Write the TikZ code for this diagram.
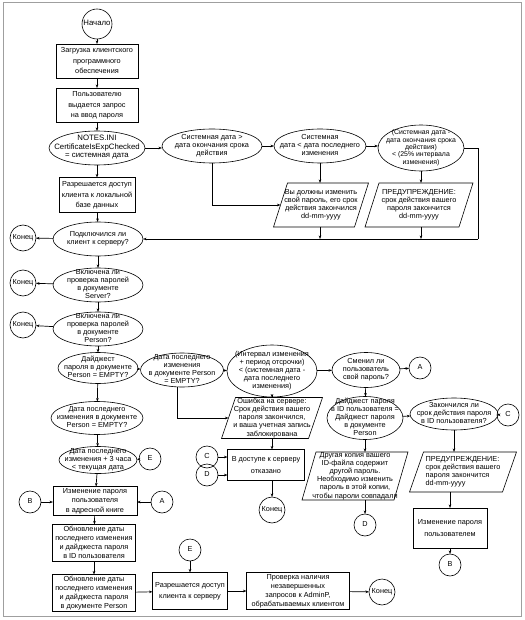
\documentclass[tikz,border=0pt]{standalone}
\usepackage{fontspec}
\setmainfont{Liberation Sans}
\usetikzlibrary{shapes.geometric,arrows.meta}
\newcommand\zt[1]{\makebox[0pt]{\raisebox{-1.75pt}[0pt][0pt]{\begin{tabular}{@{}c@{}}#1\end{tabular}}}}
\newcommand\zl[1]{\makebox[0pt]{\raisebox{-1.75pt}[0pt][0pt]{\begin{tabular}{@{}l@{}}#1\end{tabular}}}}
\newcommand\drawpara[2]{\draw[line width=0.6pt] ([xshift=#2]#1.north west) -- ([xshift=#2]#1.north east) -- ([xshift=-#2]#1.south east) -- ([xshift=-#2]#1.south west) -- cycle;}
\begin{document}
\begin{tikzpicture}[x=1pt,y=-1pt,
  every node/.style={inner sep=0pt,outer sep=0pt},
  el/.style={ellipse,draw,line width=0.6pt,font=\fontsize{7.3}{8}\selectfont},
  bx/.style={rectangle,draw,line width=0.6pt,font=\fontsize{7.3}{10.5}\selectfont},
  bxf/.style={rectangle,draw,line width=0.6pt,font=\fontsize{7.3}{9}\selectfont},
  pg/.style={rectangle,font=\fontsize{7.3}{8.2}\selectfont},
  term/.style={circle,draw,line width=0.6pt,minimum size=26pt,font=\fontsize{7.3}{8}\selectfont},
  con/.style={circle,draw,line width=0.6pt,minimum size=22pt,font=\fontsize{7.3}{8}\selectfont},
  ar/.style={line width=0.7pt,-{Stealth[length=3.5pt,width=2.6pt]}},
  ln/.style={line width=0.7pt}]
\useasboundingbox (0,0) rectangle (524,620);
\draw[gray!75,line width=1pt] (3,3) rectangle (521,616);
% top row
\node[term,minimum size=30pt,font=\fontsize{7.8}{8}\selectfont] (start) at (97,24) {\zt{Начало}};
\node[bx,minimum width=82pt,minimum height=34pt] (b1) at (97,61) {\zt{Загрузка клиентского\\программного\\обеспечения}};
\node[bx,minimum width=82pt,minimum height=34pt] (b2) at (97,105) {\zt{Пользователю\\выдается запрос\\на ввод пароля}};
\node[el,minimum width=96pt,minimum height=34pt,font=\fontsize{7.8}{8.5}\selectfont] (e1) at (97,148) {\zt{NOTES.INI\\CertificateIsExpChecked\\= системная дата}};
\node[el,minimum width=100pt,minimum height=34pt] (e2) at (212,146) {\zt{Системная дата >\\дата окончания срока\\действия}};
\node[el,minimum width=92pt,minimum height=34pt] (e3) at (320,146) {\zt{Системная\\дата < дата последнего\\изменения}};
\node[el,minimum width=86pt,minimum height=46pt,font=\fontsize{6.9}{7.4}\selectfont] (e4) at (421,148) {\zt{(Системная дата -\\дата окончания срока\\действия)\\< (25\% интервала\\изменения)}};
\node[pg,minimum width=81pt,minimum height=44pt] (p1) at (321,205) {\zt{Вы должны изменить\\свой пароль, его срок\\действия закончился\\dd-mm-yyyy}};
\drawpara{p1}{7pt}
\node[pg,minimum width=94pt,minimum height=44pt] (p2) at (419,205) {\zt{ПРЕДУПРЕЖДЕНИЕ:\\срок действия вашего\\пароля закончится\\dd-mm-yyyy}};
\drawpara{p2}{7pt}
\coordinate (loop) at (478,239);
% left column
\node[bx,minimum width=76pt,minimum height=35pt] (b3) at (97,195) {\zt{Разрешается доступ\\клиента к локальной\\базе данных}};
\node[el,minimum width=90pt,minimum height=34pt] (c1) at (98,239) {\zt{Подключился ли\\клиент к серверу?}};
\node[term] (k1) at (23,238) {\zt{Конец}};
\node[el,minimum width=90pt,minimum height=34pt] (c2) at (98,285) {\zt{Включена ли\\проверка паролей\\в документе\\Server?}};
\node[term] (k2) at (23,283) {\zt{Конец}};
\node[el,minimum width=90pt,minimum height=34pt] (c3) at (98,329) {\zt{Включена ли\\проверка паролей\\в документе\\Person?}};
\node[term] (k3) at (23,325) {\zt{Конец}};
\node[el,minimum width=80pt,minimum height=31pt] (d1) at (98,368) {\zt{Дайджест\\пароля в документе\\Person = EMPTY?}};
\node[el,minimum width=92pt,minimum height=33pt] (d2) at (97,418) {\zt{Дата последнего\\изменения в документе\\Person = EMPTY?}};
\node[el,minimum width=78pt,minimum height=27pt] (d3) at (98,460) {\zt{Дата последнего\\изменения + 3 часа\\< текущая дата}};
\node[con] (E1) at (150,459) {\zt{E}};
\node[bx,minimum width=84pt,minimum height=29pt,font=\fontsize{7.3}{9.5}\selectfont] (ba) at (95,501) {\zt{Изменение пароля\\пользователя\\в адресной книге}};
\node[con] (B1) at (30,502) {\zt{B}};
\node[con] (A1) at (162,502) {\zt{A}};
\node[bxf,minimum width=83pt,minimum height=37pt] (u1) at (94,543) {\zt{Обновление даты\\последнего изменения\\и дайджеста пароля\\в ID пользователя}};
\node[bxf,minimum width=83pt,minimum height=37pt] (u2) at (94,593) {\zt{Обновление даты\\последнего изменения\\и дайджеста пароля\\в документе Person}};
\node[bx,minimum width=75pt,minimum height=37pt] (bs) at (190,591) {\zt{Разрешается доступ\\клиента к серверу}};
\node[con] (E2) at (190,550) {\zt{E}};
\node[bxf,minimum width=103pt,minimum height=37pt] (bp) at (298,591) {\zt{Проверка наличия\\незавершенных\\запросов к AdminP,\\обрабатываемых клиентом}};
\node[term] (k5) at (382,592) {\zt{Конец}};
% middle
\node[el,minimum width=83pt,minimum height=34pt] (m1) at (182,370) {\zt{Дата последнего\\изменения\\в документе Person\\= EMPTY?}};
\node[el,minimum width=90pt,minimum height=52pt] (m2) at (272,371) {\zt{(Интервал изменения\\+ период отсрочки)\\< (системная дата -\\дата последнего\\изменения)}};
\node[el,minimum width=68pt,minimum height=35pt] (m3) at (366,370) {\zt{Сменил ли\\пользователь\\свой пароль?}};
\node[con] (A2) at (420,368) {\zt{A}};
\node[pg,minimum width=87pt,minimum height=41pt] (q1) at (272,418) {\zt{Ошибка на сервере:\\Срок действия вашего\\пароля закончился,\\и ваша учетная запись\\заблокирована}};
\drawpara{q1}{7pt}
\node[bx,minimum width=77pt,minimum height=31pt,font=\fontsize{7.3}{12}\selectfont] (bd) at (266,465) {\zt{В доступе к серверу\\отказано}};
\node[con] (C2) at (207,457) {\zt{C}};
\node[con] (D2) at (207,475) {\zt{D}};
\node[term] (k4) at (272,510) {\zt{Конец}};
% right
\node[el,minimum width=76pt,minimum height=43pt] (r1) at (365,418) {\zt{Дайджест пароля\\в ID пользователя =\\Дайджест пароля\\в документе\\Person}};
\node[el,minimum width=88pt,minimum height=32pt] (r2) at (454,414) {\zt{Закончился ли\\срок действия пароля\\в ID пользователя?}};
\node[con] (C1) at (508,415) {\zt{C}};
\node[pg,minimum width=92pt,minimum height=48pt] (r3) at (355,476) {\zt{Другая копия вашего\\ID-файла содержит\\другой пароль.\\Необходимо изменить\\пароль в этой копии,\\чтобы пароли совпадали}};
\drawpara{r3}{7pt}
\node[con] (D1) at (365,525) {\zt{D}};
\node[pg,minimum width=93pt,minimum height=40pt] (r4) at (463,472) {\zl{ПРЕДУПРЕЖДЕНИЕ:\\срок действия вашего\\пароля закончится\\dd-mm-yyyy}};
\drawpara{r4}{7pt}
\node[bx,minimum width=74pt,minimum height=40pt,font=\fontsize{7.3}{12}\selectfont] (r5) at (450,528) {\zt{Изменение пароля\\пользователем}};
\node[con] (B2) at (450,565) {\zt{B}};
% connectors top
\draw[ar] (start) -- (b1);
\draw[ar] (b1) -- (b2);
\draw[ar] (b2) -- (e1);
\draw[ar] (e1.east) -- (e2.west |- e1.east);
\draw[ar] (e2) -- (e3);
\draw[ar] (e3) -- (e4.west |- e3.east);
\draw[ar] (e2.south) |- (p1.west);
\draw[ar] (e3.south) -- (e3.south |- p1.north);
\draw[ar] (e4.south) -- (e4.south |- p2.north);
\draw[ln] (e4.east) -| (loop);
\draw[ar,line width=0.9pt] (loop) -- (c1.east);
\draw[ar] (e3.south |- p1.south) -- (e3.south |- loop);
\draw[ar] (e4.south |- p2.south) -- (e4.south |- loop);
% left column
\draw[ar] (e1) -- (b3);
\draw[ar] (b3) -- (c1);
\draw[ar] (c1) -- (k1);
\draw[ar] (c1) -- (c2);
\draw[ar] (c2) -- (k2);
\draw[ar] (c2) -- (c3);
\draw[ar] (c3) -- (k3);
\draw[ar] (c3) -- (d1);
\draw[ar] (d1) -- (d2);
\draw[ar] (d2) -- (d3);
\draw[ar] (E1) -- (d3);
\draw[ar] (d3) -- (ba);
\draw[ar] (B1) -- (ba.west |- B1);
\draw[ar] (A1) -- (ba.east |- A1);
\draw[ar] (ba) -- (u1);
\draw[ar] (u1) -- (u2);
\draw[ar] (u2) -- (bs);
\draw[ar] (E2) -- (bs);
\draw[ar] (bs) -- (bp);
\draw[ar] (bp) -- (k5);
% middle
\draw[ar] (d1) -- (m1);
\draw[ar] (m1) -- (m2);
\draw[ar] (m2) -- (m3);
\draw[ar] (m3) -- (A2);
\draw[ar] ([xshift=-5pt]m1.south) |- (q1.west);
\draw[ar] (m2) -- (q1);
\draw[ar] (q1.south) -- (q1.south |- bd.north);
\draw[ar] (C2) -- (C2 -| bd.west);
\draw[ar] (D2) -- (D2 -| bd.west);
\draw[ar] (k4 |- bd.south) -- (k4);
% right
\draw[ar] (m3) -- (r1);
\draw[ar] (r1) -- (r2);
\draw[ar] (r2) -- (C1);
\draw[ar] (r1.south) -- (r1.south |- r3.north);
\draw[ar] (D1 |- r3.south) -- (D1);
\draw[ar] (r2.south) -- (r2.south |- r4.north);
\draw[ar] (r5 |- r4.south) -- (r5);
\draw[ar] (r5) -- (B2);
\end{tikzpicture}
\end{document}
